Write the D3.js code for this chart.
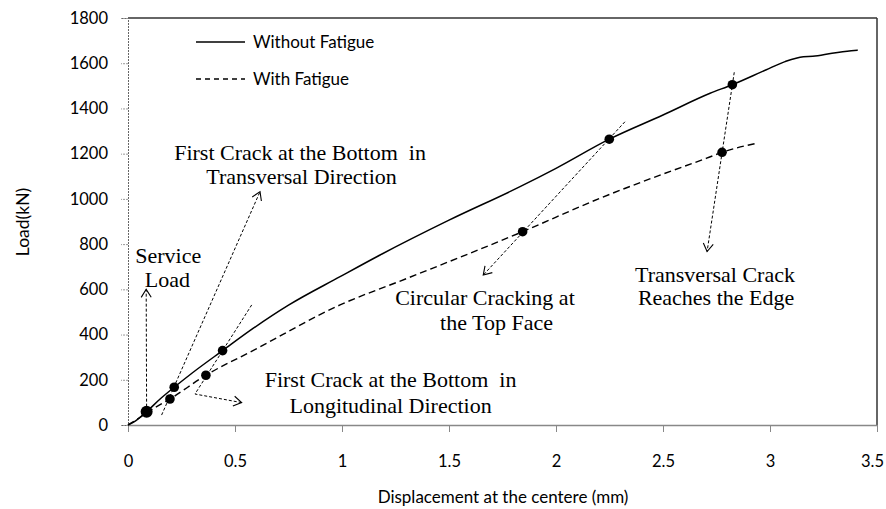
<!DOCTYPE html>
<html>
<head>
<meta charset="utf-8">
<script src="https://cdn.jsdelivr.net/npm/d3@7"></script>
<style>
body { margin: 0; background: #fff; }
svg { display: block; }
.tick text { font-family: Lato, "Open Sans", sans-serif; }
</style>
</head>
<body>
<svg id="chart" width="886" height="509"></svg>
<script>
// displacement (mm) / load (kN)
var withoutFatigue = [
	[0, 0], [0.03, 15], [0.087, 59], [0.15, 115], [0.216, 167], [0.3, 230],
	[0.442, 329], [0.586, 428], [0.75, 530], [0.991, 656], [1.178, 752],
	[1.5, 906], [1.832, 1054], [2.0, 1135], [2.249, 1264], [2.5, 1371],
	[2.72, 1467], [2.824, 1505], [2.98, 1570], [3.07, 1607], [3.156, 1629],
	[3.2, 1631], [3.29, 1644], [3.38, 1655], [3.41, 1658]
];
var withFatigue = [
	[0, 0], [0.05, 30], [0.1, 62], [0.196, 115], [0.364, 220], [0.586, 330],
	[0.991, 531], [1.308, 650], [1.844, 855], [2.206, 1003], [2.5, 1110],
	[2.704, 1180], [2.776, 1206], [2.937, 1246]
];
var keyPoints = [
	[0.087, 59, 6], [0.216, 167, 4.8], [0.196, 115, 4.8], [0.442, 329, 4.8],
	[0.364, 220, 4.8], [2.249, 1264, 4.8], [1.844, 855, 4.8],
	[2.824, 1505, 4.8], [2.776, 1206, 4.8]
];
// annotation pointer lines, each a polyline ending with an arrow
var pointers = [
	[[0.087, 59], [0.085, 600]],
	[[0.157, 44], [0.617, 1032]],
	[[0.578, 531], [0.313, 137], [0.531, 99]],
	[[2.322, 1341], [1.66, 663]],
	[[2.833, 1560], [2.706, 767]]
];
// label lines: text, centre x, baseline y (data units)
var labels = [
	["Service", 0.188, 716], ["Load", 0.184, 610],
	["First Crack at the Bottom  in", 0.804, 1171], ["Transversal Direction", 0.811, 1066],
	["First Crack at the Bottom  in", 1.227, 167], ["Longitudinal Direction", 1.227, 53],
	["Circular Cracking at", 1.668, 531], ["the Top Face", 1.722, 420],
	["Transversal Crack", 2.743, 634], ["Reaches the Edge", 2.748, 529]
];
var xTicks = [0, 0.5, 1, 1.5, 2, 2.5, 3, 3.5];
var yTicks = [0, 200, 400, 600, 800, 1000, 1200, 1400, 1600, 1800];
var legendItems = ["Without Fatigue", "With Fatigue"];

var svg = d3.select("#chart");
var x = d3.scaleLinear().domain([0, 3.5]).range([128, 877]);
var y = d3.scaleLinear().domain([0, 1800]).range([425, 18]);

svg.append("defs").append("marker")
	.attr("id", "arrow")
	.attr("markerUnits", "userSpaceOnUse")
	.attr("markerWidth", 12).attr("markerHeight", 12)
	.attr("refX", 9).attr("refY", 6)
	.attr("orient", "auto")
	.append("path")
	.attr("d", "M1,1 L9,6 L1,11")
	.attr("fill", "none")
	.attr("stroke", "#000")
	.attr("stroke-width", 1.1);

// frame
svg.append("line")
	.attr("x1", x(0)).attr("x2", x(3.5)).attr("y1", y(1800)).attr("y2", y(1800))
	.attr("stroke", "#333").attr("stroke-width", 1.5);
svg.append("line")
	.attr("x1", x(3.5)).attr("x2", x(3.5)).attr("y1", y(1800)).attr("y2", y(0))
	.attr("stroke", "#333").attr("stroke-width", 1.5);

var yAxis = svg.append("g")
	.attr("transform", "translate(" + x(0) + ",0)")
	.call(d3.axisLeft(y).tickValues(yTicks).tickSize(7).tickPadding(13).tickFormat(d3.format("d")));
yAxis.select(".domain").attr("stroke", "#666").attr("stroke-dasharray", "2,1");
yAxis.selectAll(".tick line").attr("stroke", "#999").attr("stroke-dasharray", "2,1");
yAxis.selectAll(".tick text").attr("font-size", 16.5).attr("fill", "#000");

var xAxis = svg.append("g")
	.attr("transform", "translate(0," + y(0) + ")")
	.call(d3.axisBottom(x).tickValues(xTicks).tickSize(7).tickPadding(23).tickSizeOuter(0).tickFormat(d3.format("")));
xAxis.select(".domain").attr("stroke", "#888").attr("stroke-width", 1.5);
xAxis.selectAll(".tick line").attr("stroke", "#888");
xAxis.selectAll(".tick text").attr("font-size", 16.5).attr("fill", "#000")
	.attr("dx", function(d) { return d === 3.5 ? -5 : 0; });

svg.append("text")
	.attr("x", 503).attr("y", 503)
	.attr("text-anchor", "middle")
	.attr("font-family", "Lato, sans-serif").attr("font-size", 17)
	.text("Displacement at the centere (mm)");
svg.append("text")
	.attr("transform", "translate(29,222) rotate(-90)")
	.attr("text-anchor", "middle")
	.attr("font-family", "Lato, sans-serif").attr("font-size", 17.5)
	.text("Load(kN)");

var line = d3.line()
	.x(function(d) { return x(d[0]); })
	.y(function(d) { return y(d[1]); });
var curve = d3.line()
	.curve(d3.curveMonotoneX)
	.x(function(d) { return x(d[0]); })
	.y(function(d) { return y(d[1]); });

svg.append("path")
	.datum(withoutFatigue)
	.attr("d", curve)
	.attr("fill", "none").attr("stroke", "#000").attr("stroke-width", 1.5);
svg.append("path")
	.datum(withFatigue)
	.attr("d", curve)
	.attr("fill", "none").attr("stroke", "#000").attr("stroke-width", 1.4)
	.attr("stroke-dasharray", "7,4");

svg.append("g").selectAll("path")
	.data(pointers)
	.enter().append("path")
	.attr("d", line)
	.attr("fill", "none").attr("stroke", "#000").attr("stroke-width", 1)
	.attr("stroke-dasharray", "3,2")
	.attr("marker-end", "url(#arrow)");

svg.append("g").selectAll("circle")
	.data(keyPoints)
	.enter().append("circle")
	.attr("cx", function(d) { return x(d[0]); })
	.attr("cy", function(d) { return y(d[1]); })
	.attr("r", function(d) { return d[2]; })
	.attr("fill", "#000");

svg.append("g").selectAll("text")
	.data(labels)
	.enter().append("text")
	.attr("x", function(d) { return x(d[1]); })
	.attr("y", function(d) { return y(d[2]); })
	.attr("text-anchor", "middle")
	.attr("font-family", "'Liberation Serif', 'Times New Roman', serif")
	.attr("font-size", 22)
	.style("white-space", "pre")
	.text(function(d) { return d[0]; });

// legend
var legend = svg.append("g").selectAll("g")
	.data(legendItems)
	.enter().append("g")
	.attr("transform", function(d, i) { return "translate(196," + (42 + i * 37) + ")"; });
legend.append("line")
	.attr("x1", 0).attr("x2", 49)
	.attr("stroke", "#000").attr("stroke-width", 1.3)
	.attr("stroke-dasharray", function(d, i) { return i ? "5,4" : null; });
legend.append("text")
	.attr("x", 57).attr("dy", "0.35em")
	.attr("font-family", "Lato, sans-serif").attr("font-size", 17)
	.text(function(d) { return d; });
</script>
</body>
</html>
